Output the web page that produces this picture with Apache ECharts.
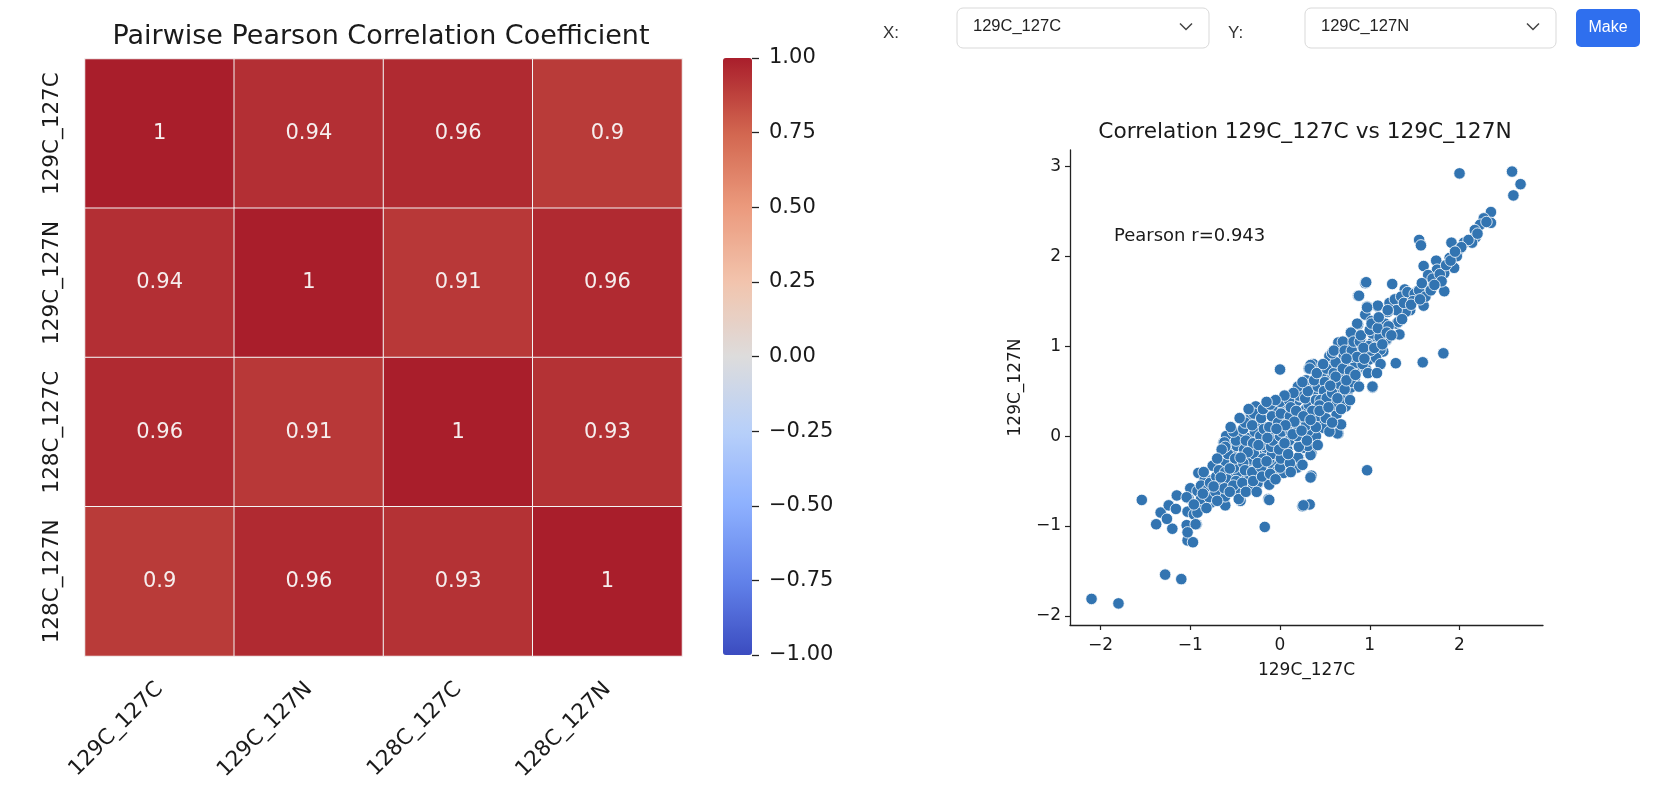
<!DOCTYPE html>
<html><head><meta charset="utf-8">
<script src="https://cdn.jsdelivr.net/npm/echarts@6/dist/echarts.min.js"></script>
<style>html,body{margin:0;padding:0;background:#fff}#c{width:1672px;height:798px}</style>
</head><body><div id="c"></div>
<script>
// ---------------- data ----------------
const heatLabels = ['129C_127C', '129C_127N', '128C_127C', '128C_127N'];
const corrMatrix = [
  [1, 0.94, 0.96, 0.9],
  [0.94, 1, 0.91, 0.96],
  [0.96, 0.91, 1, 0.93],
  [0.9, 0.96, 0.93, 1]
];
const colorbarMin = -1;
const colorbarMax = 1;
const colorbarTicks = [-1, -0.75, -0.5, -0.25, 0, 0.25, 0.5, 0.75, 1];
const coolwarmStops = ['#3b4cc0', '#6282ea', '#8db0fe', '#b8d0f9', '#dddcdc', '#f2c4ad', '#eb9a7d', '#d2664f', '#a91e2b'];

const scatterTitle = 'Correlation 129C_127C vs 129C_127N';
const scatterXName = '129C_127C';
const scatterYName = '129C_127N';
const pearsonText = 'Pearson r=0.943';
const scatterXTicks = [-2, -1, 0, 1, 2];
const scatterYTicks = [-2, -1, 0, 1, 2, 3];
const scatterPoints = [
  [-2.10,-1.81],[-1.80,-1.86],[-1.28,-1.54],[-1.10,-1.59],[-1.54,-0.71],[-1.38,-0.98],[-1.33,-0.85],
  [-1.20,-1.03],[-1.24,-0.77],[-1.15,-0.66],[-1.26,-0.92],[-1.16,-0.81],[-1.03,-0.84],[-1.04,-0.99],
  [-1.03,-1.16],[-0.97,-1.18],[-0.93,-0.98],[-0.96,-0.87],[-1.02,-0.69],[-1.00,-0.58],[-0.89,-0.63],
  [-0.91,-0.41],[-0.84,-0.48],[-0.77,-0.74],[-0.79,-0.56],[-0.75,-0.33],[-0.64,-0.66],[-0.61,-0.77],
  [-0.64,-0.52],[-0.60,-0.30],[-0.63,-0.07],[-0.60,0.00],[-0.51,-0.09],[-0.53,-0.21],[-0.53,-0.41],
  [-0.48,-0.63],[-0.44,-0.72],[-0.45,-0.45],[-0.43,0.00],[-0.35,-0.28],[-0.32,-0.13],[-0.38,0.13],
  [-0.33,0.22],[-0.29,0.00],[-0.24,-0.52],[-0.12,-0.54],[-0.13,-0.70],[-0.17,-1.01],[-0.25,0.15],
  [-0.21,0.28],[-0.10,0.04],[-0.17,-0.19],[-0.03,-0.30],[-0.01,-0.35],[-0.10,-0.35],[0.07,-0.15],
  [0.01,0.09],[-0.06,0.18],[-0.10,0.29],[0.10,0.29],[0.18,-0.06],[0.20,-0.34],
  [-1.04,-0.68],[-1.03,-1.07],[-0.94,-0.98],[-0.92,-0.61],[-0.88,-0.55],[-0.81,-0.70],[-0.76,-0.49],
  [-0.76,-0.61],[-0.67,-0.56],[-0.61,-0.67],[-0.62,-0.07],[-0.50,-0.30],[-0.47,-0.40],[-0.46,-0.70],
  [-0.54,-0.19],[-0.48,-0.11],[-0.37,0.13],[-0.32,0.22],[-0.34,-0.02],[-0.32,-0.26],[-0.34,-0.46],
  [-0.30,-0.57],[-0.25,-0.52],[-0.16,-0.41],[-0.12,-0.71],[-0.08,-0.33],[-0.02,-0.37],[0.04,-0.41],
  [0.00,-0.35],[0.00,0.74],[-0.12,-0.26],[-0.16,-0.13],[-0.02,-0.09],[-0.08,0.02],[-0.20,0.11],
  [-0.27,0.33],[-0.14,0.30],[-0.06,0.31],[0.04,0.30],[0.10,0.35],[0.19,0.39],[0.08,0.20],[0.15,0.07],
  [0.08,-0.15],[0.19,-0.35],[0.21,-0.24],[0.27,-0.13],[0.31,0.02],[0.35,-0.19],[0.35,-0.44],
  [0.25,-0.78],[0.33,-0.76],[0.97,-0.38],
  [0.23,0.15],[0.29,0.30],[0.23,0.44],[0.31,0.56],[0.39,0.37],[0.47,0.26],[0.41,0.15],[0.39,0.48],
  [0.32,0.75],[0.37,0.80],[0.47,0.69],[0.45,0.56],[0.54,0.52],[0.53,0.74],[0.56,0.87],[0.59,0.63],
  [0.61,0.44],[0.63,0.24],[0.67,0.13],[0.65,0.03],[0.73,0.33],[0.71,0.89],[0.69,0.74],[0.65,1.04],
  [0.77,1.04],[0.77,0.81],[0.75,0.48],[0.81,0.56],[0.85,0.74],[0.83,0.81],[0.89,1.00],[0.87,1.24],
  [0.79,1.15],[0.95,0.74],[1.03,0.54],[0.99,0.85],[1.03,1.04],[1.07,1.11],[1.15,0.94],[1.19,1.07],
  [0.95,1.35],[1.09,1.44],[0.97,1.44],[0.87,1.56],[0.95,1.70],
  [2.00,2.92],[2.585,2.94],[2.68,2.80],[2.60,2.675],[2.35,2.49],[2.35,2.37],[2.27,2.42],[2.23,2.35],
  [2.17,2.29],[2.18,2.21],[2.14,2.15],[2.05,2.15],[1.91,2.15],[1.55,2.18],[1.57,2.12],[1.99,2.07],
  [1.89,1.98],[1.97,2.00],[1.94,1.87],[1.74,1.95],[1.60,1.89],[1.75,1.85],[1.65,1.79],[1.83,1.81],
  [1.70,1.66],[1.83,1.61],[1.60,1.45],[1.64,1.59],[1.52,1.60],[1.39,1.63],[1.45,1.55],[1.45,1.40],
  [1.34,1.52],[1.27,1.41],[1.25,1.69],[0.96,1.71],[0.88,1.56],[1.09,1.45],[0.97,1.43],[1.40,1.38],
  [1.17,1.25],[1.30,1.25],[1.33,1.13],[1.02,1.28],[0.86,1.25],[1.03,1.14],[1.19,1.08],[1.12,0.96],
  [0.97,0.96],[0.79,1.15],[0.70,1.05],[0.90,1.07],[0.86,0.98],[1.07,0.87],[0.96,0.74],
  [0.55,0.89],[0.68,0.78],[0.84,0.81],[1.29,0.81],[1.59,0.82],[1.82,0.92],[1.03,0.55],[0.34,0.79],
  [0.33,0.75],[0.55,0.68],[0.46,0.68],[0.73,0.64],[0.83,0.63],[0.64,0.55],[0.49,0.55],[0.34,0.55],
  [0.20,0.54],[0.42,0.48],[0.27,0.46],[0.79,0.54],
  [0.34,-0.46],[0.26,-0.77],[0.20,-0.24],[0.34,-0.21],[0.64,0.03],[0.68,0.13],[0.49,0.09],[0.40,0.00],
  [0.18,-0.04],[0.31,-0.11],
  [1.22,1.48],[1.28,1.52],[1.35,1.55],[1.42,1.60],[1.50,1.58],[1.55,1.62],[1.30,1.40],[1.20,1.38],
  [1.32,1.27],[1.38,1.48],[1.48,1.50],[1.58,1.70],[1.62,1.55],[1.70,1.75],[1.78,1.80],[1.80,1.72],
  [1.85,1.90],[1.90,1.95],[1.68,1.62],[1.72,1.68],[2.10,2.18],[2.20,2.25],[2.30,2.38],[2.02,2.10],[1.95,2.05],
  [-0.91,-0.75],[-0.88,-0.70],[-0.92,-0.85],[-0.81,-0.60],[-0.79,-0.68],[-0.82,-0.80],[-0.78,-0.52],
  [-0.71,-0.45],[-0.69,-0.55],[-0.72,-0.62],[-0.70,-0.72],[-0.68,-0.38],[-0.61,-0.40],[-0.59,-0.48],
  [-0.62,-0.58],[-0.58,-0.20],[-0.61,-0.12],[-0.51,-0.35],[-0.49,-0.50],[-0.52,-0.55],[-0.50,-0.25],
  [-0.49,-0.05],[-0.52,0.05],[-0.41,-0.30],[-0.39,-0.38],[-0.42,-0.52],[-0.40,-0.15],[-0.38,-0.05],
  [-0.41,0.08],[-0.39,0.15],[-0.31,-0.40],[-0.29,-0.20],[-0.30,-0.08],[-0.28,0.05],[-0.31,0.12],
  [-0.29,0.25],[-0.30,-0.50],[-0.21,-0.35],[-0.19,-0.25],[-0.20,-0.10],[-0.22,0.00],[-0.18,0.08],
  [-0.21,0.20],[-0.19,0.30],[-0.20,-0.45],[-0.11,-0.42],[-0.09,-0.20],[-0.10,-0.12],[-0.12,0.10],
  [-0.09,0.22],[-0.11,0.35],[-0.08,-0.05],[0.01,-0.25],[-0.01,-0.15],[0.00,0.00],[0.02,0.05],
  [-0.02,0.15],[0.01,0.25],[0.00,0.38],[0.11,-0.30],[0.09,-0.20],[0.10,-0.05],[0.12,0.05],
  [0.09,0.12],[0.11,0.22],[0.10,0.40],[0.12,0.32],[0.21,-0.12],[0.19,0.00],[0.20,0.10],[0.22,0.20],
  [0.18,0.28],[0.21,0.45],[0.20,0.55],[0.31,0.05],[0.29,0.12],[0.30,0.25],[0.32,0.35],[0.28,0.42],
  [0.31,0.50],[0.29,0.62],[0.30,-0.05],[0.41,0.22],[0.39,0.30],[0.40,0.40],[0.42,0.55],[0.38,0.62],
  [0.41,0.70],[0.40,0.10],[0.51,0.35],[0.49,0.45],[0.50,0.60],[0.52,0.75],[0.48,0.80],[0.51,0.20],
  [0.49,0.50],[0.61,0.50],[0.59,0.58],[0.60,0.70],[0.62,0.82],[0.58,0.92],[0.61,0.35],[0.60,0.95],
  [0.71,0.60],[0.69,0.68],[0.70,0.75],[0.72,0.95],[0.70,0.40],[0.81,0.70],[0.79,0.88],[0.80,0.95],
  [0.82,1.05],[0.80,0.60],[0.91,0.90],[0.89,1.05],[0.90,1.12],[0.92,0.80],[1.01,0.95],[0.99,1.00],
  [1.00,1.18],[1.02,1.25],[1.11,1.10],[1.09,1.20],[1.10,1.32],[1.21,1.22],[1.19,1.15],[1.20,1.40],
  [0.45,0.40],[0.52,0.42],[0.58,0.48],[0.66,0.58],[0.72,0.52],[0.78,0.72],[0.86,0.88],[0.93,0.98],
  [0.74,0.86],[0.62,0.66],[0.56,0.56],[0.44,0.34],[0.36,0.28],[0.26,0.22],[0.16,0.16],[0.06,0.12],
  [-0.04,0.08],[-0.14,-0.02],[-0.24,-0.10],[-0.36,-0.18],[-0.44,-0.24],[-0.56,-0.36],[-0.66,-0.46],
  [-0.74,-0.56],[-0.86,-0.64],[-0.96,-0.76],[-0.25,-0.30],[-0.15,-0.28],[0.05,-0.08],[0.14,0.02],
  [0.24,0.06],[0.34,0.18],[0.44,0.28],[0.54,0.32],[0.64,0.42],[0.74,0.62],[0.84,0.68],[0.94,0.86],
  [1.05,0.98],[1.14,1.02],[1.24,1.12],[1.36,1.30],[1.46,1.46],[1.56,1.52],[0.15,0.48],[0.25,0.60],
  [0.05,0.45],[-0.05,0.40],[-0.15,0.38],[-0.35,0.30],[-0.45,0.20],[-0.55,0.10],[-0.65,-0.15],
  [-0.70,-0.25],[-0.85,-0.40],[-0.56,-0.62],[-0.38,-0.62],[-0.26,-0.62],[-0.05,-0.48],[0.12,-0.40],
  [0.25,-0.32],[0.42,-0.10],[0.55,0.05],[0.58,0.15],[0.68,0.30],[0.78,0.40],[0.88,0.55],[0.98,0.70],
  [1.12,0.80],[1.08,0.70]
];

// ---------------- helpers ----------------
const FONT = "'DejaVu Sans', sans-serif";
const UIFONT = "'Liberation Sans', Arial, sans-serif";
const minus = s => String(s).replace('-', '\u2212');

const heatData = [];
corrMatrix.forEach((row, r) => row.forEach((v, c) => heatData.push([c, r, v])));

function uiText(text, x, y, size, color, align) {
  return {
    type: 'text', x: x, y: y, silent: true,
    style: { text: text, fill: color, fontSize: size, fontFamily: UIFONT,
      align: align || 'left', textAlign: align || 'left',
      verticalAlign: 'middle', textVerticalAlign: 'middle' }
  };
}
function selectBox(x, w, label) {
  return [
    { type: 'rect', shape: { x: x, y: 8, width: w, height: 40, r: 6 },
      style: { fill: '#fff', stroke: '#d9d9d9', lineWidth: 1 }, silent: true },
    uiText(label, x + 16, 26.5, 16.5, '#222'),
    { type: 'polyline', shape: { points: [[x + w - 29, 23.5], [x + w - 23, 29.5], [x + w - 17, 23.5]] },
      style: { stroke: '#444', lineWidth: 1.5, fill: null }, silent: true }
  ];
}

const chart = echarts.init(document.getElementById('c'), null, { renderer: 'canvas' });
chart.setOption({
  animation: false,
  backgroundColor: '#fff',
  textStyle: { fontFamily: FONT },
  title: [
    { text: 'Pairwise Pearson Correlation Coefficient', left: 381, top: 23, textAlign: 'center', padding: 0,
      textStyle: { fontFamily: FONT, fontSize: 27, fontWeight: 'normal', color: '#1a1a1a' } },
    { text: scatterTitle, left: 1305, top: 121, textAlign: 'center', padding: 0,
      textStyle: { fontFamily: FONT, fontSize: 21.7, fontWeight: 'normal', color: '#1a1a1a' } }
  ],
  grid: [
    { left: 85, top: 59, width: 597, height: 597 },
    { left: 723, top: 58, width: 29, height: 597 },
    { left: 1070, top: 150, right: 129, bottom: 173 }
  ],
  xAxis: [
    { type: 'category', gridIndex: 0, data: heatLabels, axisLine: { show: false }, axisTick: { show: false },
      splitLine: { show: false },
      axisLabel: { rotate: 45, margin: 30, fontSize: 21.5, color: '#1a1a1a', fontFamily: FONT, interval: 0 } },
    { type: 'value', gridIndex: 1, show: false, min: 0, max: 1 },
    { type: 'value', gridIndex: 2, min: -2.34, max: 2.93,
      name: scatterXName, nameLocation: 'middle', nameGap: 37,
      nameTextStyle: { fontSize: 17, color: '#1a1a1a', fontFamily: FONT },
      axisLine: { show: true, onZero: false, lineStyle: { color: '#222', width: 1.3 } },
      axisTick: { show: true, length: 5, customValues: scatterXTicks, lineStyle: { color: '#222', width: 1.2 } },
      axisLabel: { customValues: scatterXTicks, margin: 12, fontSize: 17, color: '#1a1a1a', fontFamily: FONT,
        formatter: v => minus(v) },
      splitLine: { show: false } }
  ],
  yAxis: [
    { type: 'category', gridIndex: 0, data: heatLabels, inverse: true, axisLine: { show: false },
      axisTick: { show: false }, splitLine: { show: false },
      axisLabel: { rotate: 90, margin: 22, fontSize: 21.5, color: '#1a1a1a', fontFamily: FONT, interval: 0 } },
    { type: 'value', gridIndex: 1, position: 'right', min: colorbarMin, max: colorbarMax, interval: 0.25, z: 10,
      axisLine: { show: true, onZero: false, lineStyle: { color: 'rgba(0,0,0,0)', width: 1 } },
      splitLine: { show: false },
      axisTick: { show: true, inside: false, length: 7, customValues: colorbarTicks,
        lineStyle: { color: '#222', width: 1.3 } },
      axisLabel: { customValues: colorbarTicks, margin: 17, fontSize: 21, color: '#1a1a1a', fontFamily: FONT,
        padding: [6, 0, 0, 0], formatter: v => minus(v.toFixed(2)) } },
    { type: 'value', gridIndex: 2, min: -2.10, max: 3.18,
      name: scatterYName, nameLocation: 'middle', nameGap: 46, nameRotate: 90,
      nameTextStyle: { fontSize: 17, color: '#1a1a1a', fontFamily: FONT },
      axisLine: { show: true, onZero: false, lineStyle: { color: '#222', width: 1.3 } },
      axisTick: { show: true, length: 5, customValues: scatterYTicks, lineStyle: { color: '#222', width: 1.2 } },
      axisLabel: { customValues: scatterYTicks, margin: 9, fontSize: 17, color: '#1a1a1a', fontFamily: FONT,
        padding: [3, 0, 0, 0], formatter: v => minus(v) },
      splitLine: { show: false } }
  ],
  visualMap: {
    type: 'continuous', seriesIndex: 0, min: colorbarMin, max: colorbarMax, z: 1,
    left: 723, top: 58, itemWidth: 29, itemHeight: 597, padding: 0,
    calculable: false, hoverLink: false, text: null, showLabel: false,
    inRange: { color: coolwarmStops }
  },
  series: [
    { type: 'heatmap', xAxisIndex: 0, yAxisIndex: 0, data: heatData,
      itemStyle: { borderColor: '#f4f4f4', borderWidth: 1 },
      emphasis: { disabled: true },
      label: { show: true, fontSize: 21, fontFamily: FONT, color: '#f6eeee',
        formatter: p => String(p.value[2]) } },
    { type: 'scatter', xAxisIndex: 2, yAxisIndex: 2, data: scatterPoints,
      symbol: 'circle', symbolSize: 11.5,
      itemStyle: { color: '#3274b1', borderColor: '#ffffff', borderWidth: 0.8, opacity: 1 },
      emphasis: { disabled: true } },
    { type: 'line', xAxisIndex: 1, yAxisIndex: 1, data: [], silent: true }
  ],
  graphic: [
    { type: 'text', x: 1114, y: 236, silent: true,
      style: { text: pearsonText, fill: '#1a1a1a', fontSize: 18, fontFamily: FONT,
        align: 'left', textAlign: 'left', verticalAlign: 'middle', textVerticalAlign: 'middle' } },
    uiText('X:', 883, 33, 17, '#333'),
    uiText('Y:', 1228, 33, 17, '#333'),
    ...selectBox(957, 252, '129C_127C'),
    ...selectBox(1305, 251, '129C_127N'),
    { type: 'rect', shape: { x: 1576, y: 9, width: 64, height: 38, r: 5 },
      style: { fill: '#2f6fee' }, silent: true },
    uiText('Make', 1608, 28, 16, '#ffffff', 'center')
  ]
});
</script></body></html>
